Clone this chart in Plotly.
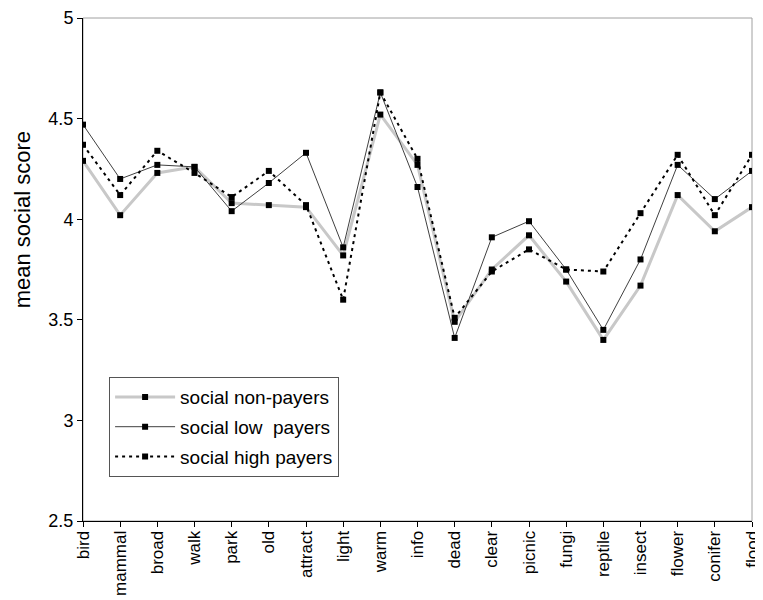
import plotly.graph_objects as go

categories = ["bird", "mammal", "broad", "walk", "park", "old", "attract", "light",
              "warm", "info", "dead", "clear", "picnic", "fungi", "reptile", "insect",
              "flower", "conifer", "flood"]
non_payers = [4.29, 4.02, 4.23, 4.26, 4.08, 4.07, 4.06, 3.82, 4.52, 4.27,
              3.49, 3.75, 3.92, 3.69, 3.40, 3.67, 4.12, 3.94, 4.06]
low_payers = [4.47, 4.20, 4.27, 4.26, 4.04, 4.18, 4.33, 3.86, 4.63, 4.16,
              3.41, 3.91, 3.99, 3.75, 3.45, 3.80, 4.27, 4.10, 4.24]
high_payers = [4.37, 4.12, 4.34, 4.23, 4.11, 4.24, 4.07, 3.60, 4.63, 4.30,
               3.51, 3.74, 3.85, 3.75, 3.74, 4.03, 4.32, 4.02, 4.32]
y_ticks = [2.5, 3, 3.5, 4, 4.5, 5]

FONT = "Arial, Liberation Sans, sans-serif"
marker = dict(symbol="square", size=6, color="black")

fig = go.Figure()
fig.add_trace(go.Scatter(x=categories, y=non_payers, mode="lines+markers",
                         name="social non-payers", legendgroup="a",
                         line=dict(color="#c8c8c8", width=3), marker=marker))
fig.add_trace(go.Scatter(x=categories, y=low_payers, mode="lines+markers",
                         name="social low  payers", legendgroup="b",
                         line=dict(color="#404040", width=1), marker=marker))
fig.add_trace(go.Scatter(x=categories, y=high_payers, mode="lines+markers",
                         name="social high payers", legendgroup="c",
                         line=dict(color="black", width=2, dash="3px,4px"), marker=marker))

fig.add_shape(type="rect", xref="paper", yref="paper", x0=0, y0=0, x1=1, y1=1,
              line=dict(color="#a0a0a0", width=1), layer="below")

fig.add_annotation(text="mean social score", xref="paper", yref="paper",
                   x=-0.091, y=0.598, textangle=-90, showarrow=False,
                   xanchor="center", yanchor="middle",
                   font=dict(size=22, family=FONT, color="black"))

# the page body adds an 8px margin, so the figure is sized/offset to compensate
fig.update_layout(
    width=755, height=592,
    margin=dict(l=75, r=11, t=10, b=79),
    paper_bgcolor="white", plot_bgcolor="white",
    font=dict(family=FONT, color="black", size=16),
    showlegend=True,
    legend=dict(x=0.039, y=0.286, xanchor="left", yanchor="top",
                bordercolor="#555555", borderwidth=1, bgcolor="white",
                font=dict(size=19, family=FONT), itemwidth=60,
                tracegroupgap=2),
    xaxis=dict(type="category", range=[0, len(categories) - 1], automargin=False,
               tickangle=-90, ticks="outside", ticklen=5, tickcolor="black",
               ticklabelstandoff=-3,
               showline=True, linecolor="black", linewidth=1,
               showgrid=False, zeroline=False, tickfont=dict(size=17)),
    yaxis=dict(range=[2.5, 5], tickvals=y_ticks, ticks="outside", ticklen=5,
               automargin=False,
               tickcolor="black", showline=True, linecolor="black", linewidth=1,
               showgrid=False, zeroline=False, tickfont=dict(size=18)),
)

fig.write_html("out.html")
